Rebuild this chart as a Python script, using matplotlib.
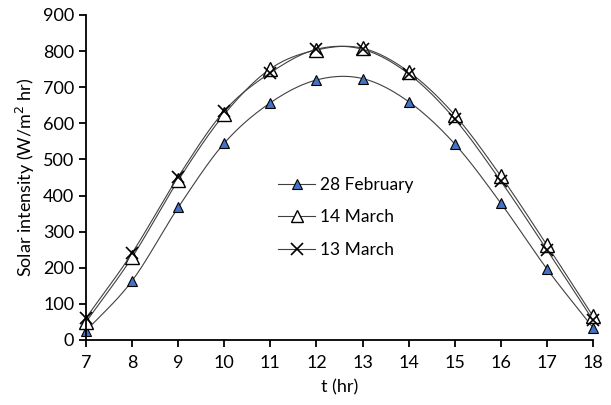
import numpy as np
import matplotlib.pyplot as plt

plt.rcParams['font.family'] = ['Lato', 'DejaVu Sans']

# Données
heures = [7, 8, 9, 10, 11, 12, 13, 14, 15, 16, 17, 18]
fevrier_28 = [25, 164, 367, 545, 657, 720, 724, 660, 543, 379, 197, 34]
mars_14 = [50, 229, 442, 625, 751, 803, 808, 743, 623, 454, 263, 66]
mars_13 = [61, 241, 452, 634, 740, 805, 805, 737, 612, 440, 250, 55]


def lisse(x, y, n=20):
    # courbe lissée type Excel (Catmull-Rom)
    x = np.asarray(x, float)
    y = np.asarray(y, float)
    px = np.concatenate([[2 * x[0] - x[1]], x, [2 * x[-1] - x[-2]]])
    py = np.concatenate([[2 * y[0] - y[1]], y, [2 * y[-1] - y[-2]]])
    xs, ys = [], []
    t = np.linspace(0, 1, n, endpoint=False)
    for i in range(1, len(px) - 2):
        for p, out in ((px, xs), (py, ys)):
            p0, p1, p2, p3 = p[i - 1], p[i], p[i + 1], p[i + 2]
            out.extend(0.5 * (2 * p1 + (-p0 + p2) * t
                              + (2 * p0 - 5 * p1 + 4 * p2 - p3) * t ** 2
                              + (-p0 + 3 * p1 - 3 * p2 + p3) * t ** 3))
    xs.append(x[-1])
    ys.append(y[-1])
    return xs, ys


fig = plt.figure(figsize=(6.11, 4.05), dpi=100)
ax = fig.add_axes([0.1408, 0.1605, 0.8297, 0.8025])

series = [
    (fevrier_28, "28 February", dict(marker="^", markersize=7.5, markerfacecolor="#4472c4", markeredgecolor="black", markeredgewidth=0.8)),
    (mars_14, "14 March", dict(marker="^", markersize=10, markerfacecolor="white", markeredgecolor="black", markeredgewidth=1.0)),
    (mars_13, "13 March", dict(marker="x", markersize=8, markeredgecolor="black", markeredgewidth=1.2)),
]

for valeurs, nom, style in series:
    xs, ys = lisse(heures, valeurs)
    ax.plot(xs, ys, color="#404040", linewidth=0.8)
    ax.plot(heures, valeurs, linestyle="none", clip_on=False, **style)
    leg_style = dict(style)
    leg_style["markersize"] = min(style["markersize"], 8)
    ax.plot([], [], color="#404040", linewidth=0.8, label=nom, **leg_style)

ax.set_xlim(7, 18)
ax.set_ylim(0, 900)
ax.set_xticks(heures)
ax.set_yticks(range(0, 901, 100))
ax.spines["top"].set_visible(False)
ax.spines["right"].set_visible(False)
ax.spines["left"].set_linewidth(1.3)
ax.spines["bottom"].set_linewidth(1.3)
ax.tick_params(labelsize=13, width=1.3, length=5, direction="out")
ax.tick_params(axis="x", pad=6)
ax.set_xlabel("t (hr)", fontsize=13, labelpad=6)
ax.set_ylabel("Solar intensity (W/m$^2$ hr)", fontsize=13)

ax.legend(loc="upper left", bbox_to_anchor=(0.430, 0.602), bbox_transform=fig.transFigure,
          frameon=False, fontsize=12.5, handlelength=2.1, labelspacing=0.95, handletextpad=0.3)

plt.savefig("out.png", dpi=100)
